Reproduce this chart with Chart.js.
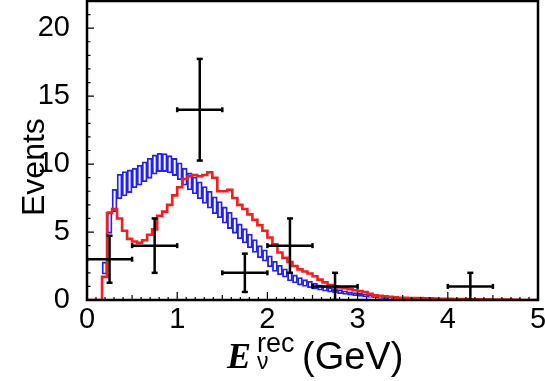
<!DOCTYPE html>
<html>
<head>
<meta charset="utf-8">
<script src="https://cdn.jsdelivr.net/npm/chart.js@4.4.1/dist/chart.umd.min.js"></script>
<style>
html, body { margin: 0; padding: 0; background: #fff; }
#wrap { position: relative; width: 545px; height: 381px; }
#c { position: absolute; left: 0; top: 0; }
.lbl { position: absolute; white-space: nowrap; line-height: 1; color: #000; font-family: "Liberation Sans", Arial, sans-serif; }
</style>
</head>
<body>
<div id="wrap">
  <canvas id="c" width="545" height="381"></canvas>
  <div class="lbl" style="left:17px; top:216px; font-size:32px; transform-origin:0 0; transform:rotate(-90deg);">Events</div>
  <div class="lbl" style="left:227px; top:338px; font-size:36px; font-family:'Liberation Serif', serif; font-weight:bold; font-style:italic;">E</div>
  <div class="lbl" style="left:257px; top:330px; font-size:27px;">rec</div>
  <div class="lbl" style="left:257px; top:350px; font-size:23px;">ν</div>
  <div class="lbl" style="left:302px; top:337px; font-size:38px;">(GeV)</div>
</div>
<script>
// histogram binning: 90 bins between 0 and 5 GeV
var xLo = 0, xHi = 5, nBins = 90;

// red histogram, content per bin
var redBins = [
  0, 0, 0, 1.7, 6.4, 6.7, 6.0, 5.1, 4.5, 4.3,
  4.2, 4.4, 4.8, 5.2, 6.2, 6.5, 7.0, 7.7, 8.3, 8.9,
  9.1, 9.2, 9.1, 9.2, 9.4, 9.0, 8.0, 8.0, 8.1, 7.5,
  7.0, 6.7, 6.3, 5.9, 5.5, 5.1, 4.6, 4.1, 3.5, 3.1,
  2.8, 2.5, 2.25, 2.1, 1.95, 1.75, 1.5, 1.3, 1.1, 1.0,
  0.92, 0.86, 0.8, 0.72, 0.65, 0.58, 0.45, 0.34, 0.3, 0.27,
  0.24, 0.2, 0.17, 0.16, 0.15, 0.15, 0.14, 0.13, 0.12, 0.11,
  0.09, 0.08, 0.08, 0.07, 0.07, 0.07, 0.06, 0.06, 0.05, 0.05,
  0.05, 0.04, 0.04, 0.03, 0.03, 0.02, 0, 0, 0, 0
];

// blue error band (lower / upper edge), starting at bin 3
var bandFirstBin = 3;
var bandLow = [
  1.9, 4.9, 6.5, 7.45, 7.65, 7.9, 8.25, 8.45, 8.7, 8.95,
  9.25, 9.45, 9.45, 9.35, 9.15, 8.85, 8.45, 8.1, 7.8, 7.45,
  7.1, 6.75, 6.35, 6.05, 5.65, 5.25, 4.9, 4.5, 4.2, 3.85,
  3.5, 3.1, 2.85, 2.45, 2.1, 1.85, 1.68, 1.4, 1.25, 1.1,
  1.0, 0.9, 0.8, 0.72, 0.65, 0.58, 0.52, 0.46, 0.41, 0.36,
  0.31, 0.27, 0.23, 0.19, 0.15, 0.12, 0.09, 0.06, 0.04
];
var bandHigh = [
  2.8, 6.5, 8.15, 9.25, 9.45, 9.57, 9.7, 9.92, 10.17, 10.43,
  10.68, 10.8, 10.78, 10.62, 10.42, 10.1, 9.7, 9.35, 9.05, 8.7,
  8.35, 8.0, 7.6, 7.25, 6.85, 6.45, 6.05, 5.6, 5.25, 4.85,
  4.45, 4.0, 3.7, 3.25, 2.85, 2.55, 2.3, 2.05, 1.85, 1.65,
  1.5, 1.38, 1.24, 1.12, 1.02, 0.92, 0.84, 0.76, 0.68, 0.61,
  0.55, 0.49, 0.43, 0.37, 0.31, 0.25, 0.2, 0.15, 0.11
];

// data points with errors
var dataX = [0.25, 0.75, 1.25, 1.75, 2.25, 2.75, 4.25];
var dataY = [3, 4, 14, 2, 4, 1, 1];
var dataXErr = [0.25, 0.25, 0.25, 0.25, 0.25, 0.25, 0.25];
var dataYErr = [1.73, 2, 3.74, 1.41, 2, 1, 1];

var xTicks = [0, 1, 2, 3, 4, 5];
var yTicks = [0, 5, 10, 15, 20];

var binW = (xHi - xLo) / nBins;

// red histogram as stepped line on the bin edges
var redPts = redBins.map(function(v, i) {
  return {x: xLo + i * binW, y: v};
});
redPts.push({x: xHi, y: redBins[redBins.length - 1]});

// blue boxes as floating bars
var bandPts = bandLow.map(function(lo, i) {
  return {x: xLo + (bandFirstBin + i + 0.5) * binW, y: [lo, bandHigh[i]]};
});

// error bars, segments split by gaps (gap first so no extra layout padding)
var vBars = [], hBars = [];
for (var i = 0; i < dataX.length; i++) {
  vBars.push({x: dataX[i], y: null});
  vBars.push({x: dataX[i], y: dataY[i] - dataYErr[i]});
  vBars.push({x: dataX[i], y: dataY[i] + dataYErr[i]});
  hBars.push({x: dataX[i], y: null});
  hBars.push({x: dataX[i] - dataXErr[i], y: dataY[i]});
  hBars.push({x: dataX[i] + dataXErr[i], y: dataY[i]});
}
vBars.push({x: xHi, y: null});
hBars.push({x: xHi, y: null});

function capRadius(r) {
  return function(c) {
    return (c.raw && c.raw.y !== null) ? r : 0;
  };
}

// ROOT style frame and inward ticks
var frameTicks = {
  id: 'frameTicks',
  afterDraw: function(chart) {
    var ctx = chart.ctx, a = chart.chartArea;
    var sx = chart.scales.x, sy = chart.scales.y;
    ctx.save();
    ctx.strokeStyle = '#000';
    ctx.lineWidth = 1.2;
    ctx.beginPath();
    for (var i = 0; i <= 50; i++) {
      var px = sx.getPixelForValue(i / 10);
      var len = i % 10 === 0 ? 8 : (i % 5 === 0 ? 5 : 3);
      ctx.moveTo(px, a.bottom);
      ctx.lineTo(px, a.bottom - len);
    }
    for (var j = 0; j <= 22; j++) {
      var py = sy.getPixelForValue(j);
      var l2 = j % 5 === 0 ? 7 : 3.5;
      ctx.moveTo(a.left, py);
      ctx.lineTo(a.left + l2, py);
    }
    ctx.stroke();
    ctx.lineWidth = 2.5;
    ctx.strokeRect(a.left, a.top, a.right - a.left, a.bottom - a.top);
    ctx.restore();
  }
};

var tickFont = {family: "'Liberation Sans', Arial, sans-serif", size: 29};

var myChart = new Chart(document.getElementById('c'), {
  type: 'bar',
  data: {
    datasets: [{
      type: 'line',
      data: vBars,
      order: 0,
      borderColor: '#000',
      borderWidth: 2.5,
      pointStyle: 'line',
      pointRadius: capRadius(3),
      pointHoverRadius: 0,
      pointBorderWidth: 2.5,
      pointBorderColor: '#000',
      pointRotation: 0,
      spanGaps: false
    }, {
      type: 'line',
      data: hBars,
      order: 1,
      borderColor: '#000',
      borderWidth: 2.5,
      pointStyle: 'line',
      pointRadius: capRadius(2.5),
      pointHoverRadius: 0,
      pointBorderWidth: 2.5,
      pointBorderColor: '#000',
      pointRotation: 90,
      spanGaps: false
    }, {
      type: 'line',
      data: redPts,
      order: 2,
      stepped: true,
      borderColor: '#ff1a1a',
      borderWidth: 2.6,
      pointRadius: 0,
      pointHoverRadius: 0,
      fill: false
    }, {
      type: 'bar',
      data: bandPts,
      order: 3,
      borderColor: '#2020ff',
      backgroundColor: 'rgba(0,0,0,0)',
      borderWidth: 1.2,
      borderSkipped: false,
      barPercentage: 1,
      categoryPercentage: 1
    }]
  },
  options: {
    responsive: false,
    animation: false,
    events: [],
    layout: {padding: {top: 1, right: 7, left: 0, bottom: 0}},
    plugins: {
      legend: {display: false},
      tooltip: {enabled: false}
    },
    scales: {
      x: {
        type: 'linear',
        min: xLo,
        max: xHi,
        offset: false,
        grid: {display: false},
        border: {display: false},
        afterBuildTicks: function(s) {
          s.ticks = xTicks.map(function(v) { return {value: v}; });
        },
        afterFit: function(s) {
          s.height = 81;
          s.paddingLeft = 0;
          s.paddingRight = 0;
        },
        ticks: {
          font: tickFont,
          color: '#000',
          padding: -5,
          maxRotation: 0,
          autoSkip: false
        }
      },
      y: {
        type: 'linear',
        min: 0,
        max: 22,
        grid: {display: false},
        border: {display: false},
        afterBuildTicks: function(s) {
          s.ticks = yTicks.map(function(v) { return {value: v}; });
        },
        afterFit: function(s) {
          s.width = 87;
          s.paddingTop = 0;
          s.paddingBottom = 0;
        },
        ticks: {
          font: tickFont,
          color: '#000',
          padding: 9,
          autoSkip: false
        }
      }
    }
  },
  plugins: [frameTicks]
});
</script>
</body>
</html>
